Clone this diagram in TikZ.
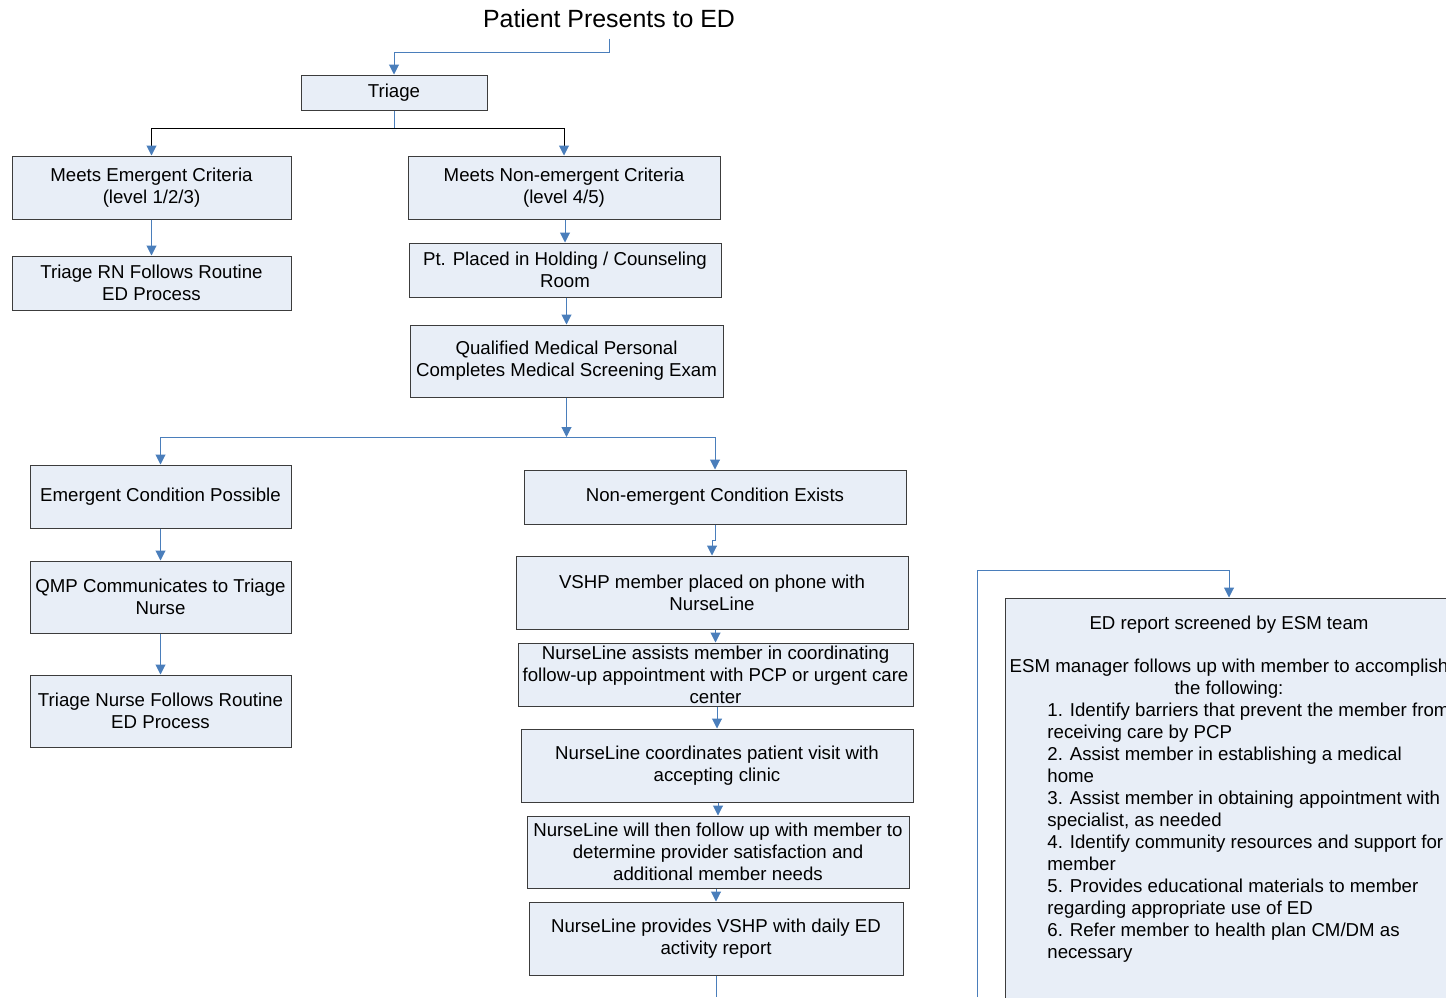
\documentclass[tikz,border=0pt]{standalone}
\usepackage{fontspec}
\setmainfont{Liberation Sans}
\usetikzlibrary{arrows.meta}

\definecolor{boxfill}{HTML}{E8EEF7}
\definecolor{boxline}{HTML}{3C3C3C}
\definecolor{linkblue}{HTML}{4A7EBB}

\tikzset{
  stepbox/.style={draw=boxline, fill=boxfill, line width=0.5pt, inner sep=0pt,
    align=center, font=\fontsize{9.33}{11}\selectfont},
  plaintext/.style={inner sep=0pt, font=\fontsize{9.33}{11}\selectfont},
  link/.style={draw=linkblue, line width=0.5pt, -{Triangle[length=5pt,width=5pt]}},
  split/.style={draw=black, line width=0.5pt,
    -{Triangle[length=5pt,width=5pt,color=linkblue]}},
}

\begin{document}
\begin{tikzpicture}[x=0.5pt, y=-0.5pt]
  \useasboundingbox (0,0) rectangle (1446,997);

  %% title and triage
  \node[inner sep=5pt, font=\fontsize{12.45}{15}\selectfont] (title) at (609,19) {Patient Presents to ED};
  \node[stepbox, minimum width=93pt, minimum height=17.5pt] (triage) at (394,92.5) {Triage};

  %% left branch
  \node[stepbox, minimum width=139.5pt, minimum height=31.5pt] (emc) at (151.5,187.5) {Meets Emergent Criteria\\(level 1/2/3)};
  \node[stepbox, minimum width=139.5pt, minimum height=27pt] (rn) at (151.5,283) {Triage RN Follows Routine\\ED Process};

  %% right branch
  \node[stepbox, minimum width=156pt, minimum height=31.5pt] (nec) at (564,187.5) {Meets Non-emergent Criteria\\(level 4/5)};
  \node[stepbox, minimum width=156pt, minimum height=27pt] (hold) at (565,270) {Pt. Placed in Holding / Counseling\\Room};
  \node[stepbox, minimum width=156.5pt, minimum height=36pt] (qme) at (566.5,361) {Qualified Medical Personal\\Completes Medical Screening Exam};

  %% emergent condition
  \node[stepbox, minimum width=130.5pt, minimum height=31.5pt] (ecp) at (160.5,496.5) {Emergent Condition Possible};
  \node[stepbox, minimum width=130.5pt, minimum height=36pt] (qmp) at (160.5,597) {QMP Communicates to Triage\\Nurse};
  \node[stepbox, minimum width=130.5pt, minimum height=36pt] (trn) at (160.5,711) {Triage Nurse Follows Routine\\ED Process};

  %% non-emergent condition
  \node[stepbox, minimum width=191pt, minimum height=27pt] (nce) at (715,497) {Non-emergent Condition Exists};
  \node[stepbox, minimum width=196pt, minimum height=36.5pt] (vshp) at (712,592.5) {VSHP member placed on phone with\\NurseLine};
  \node[stepbox, minimum width=197.5pt, minimum height=31.5pt] (assist) at (715.5,674.5) {NurseLine assists member in coordinating\\follow-up appointment with PCP or urgent care\\center};
  \node[stepbox, minimum width=196pt, minimum height=36.5pt] (coord) at (717,765.5) {NurseLine coordinates patient visit with\\accepting clinic};
  \node[stepbox, minimum width=191pt, minimum height=36pt] (follow) at (718,852) {NurseLine will then follow up with member to\\determine provider satisfaction and\\additional member needs};
  \node[stepbox, minimum width=187pt, minimum height=36.5pt] (report) at (716,938.5) {NurseLine provides VSHP with daily ED\\activity report};

  %% ESM team
  \node[stepbox, minimum width=224pt, minimum height=206pt] (esm) at (1229,804) {};
  \node[plaintext] (esmhead) at (1229,625) {ED report screened by ESM team};
  \node[plaintext, align=center] (esmintro) at (1229,679) {ESM manager follows up with member to accomplish\\the following:};
  \node[plaintext, align=left, anchor=north west] (esmlist) at (1047,703) {1. Identify barriers that prevent the member from\\
    receiving care by PCP\\
    2. Assist member in establishing a medical\\
    home\\
    3. Assist member in obtaining appointment with\\
    specialist, as needed\\
    4. Identify community resources and support for\\
    member\\
    5. Provides educational materials to member\\
    regarding appropriate use of ED\\
    6. Refer member to health plan CM/DM as\\
    necessary};

  %% junctions and loose ends
  \coordinate (tsplit) at (394,128);
  \coordinate (qsplit) at (566.5,437);
  \coordinate (rbottom) at (716,997);
  \coordinate (esmfoot) at (977,997);
  \coordinate (esmbend) at (977,570);

  %% connectors
  \draw[link] (title.south) -- ++(0,14) -| (triage.north);
  \draw[link, -] (triage.south) -- (tsplit);
  \draw[split] (tsplit) -| (emc.north);
  \draw[split] (tsplit) -| (nec.north);
  \draw[link] (emc.south) -- (rn.north);
  \draw[link] (nec.south -| hold.north) -- (hold.north);
  \draw[link] (hold.south -| qme.north) -- (qme.north);
  \draw[link] (qme.south) -- (qsplit);
  \draw[link] (qsplit) -| (ecp.north);
  \draw[link] (qsplit) -| (nce.north);
  \draw[link] (ecp.south) -- (qmp.north);
  \draw[link] (qmp.south) -- (trn.north);
  \draw[link] (nce.south) -- ++(0,16) -| (vshp.north);
  \draw[link] (vshp.south -| assist.north) -- (assist.north);
  \draw[link] (assist.south -| coord.north) -- (coord.north);
  \draw[link] (coord.south -| follow.north) -- (follow.north);
  \draw[link] (follow.south -| report.north) -- (report.north);
  \draw[link, -] (report.south) -- (rbottom);
  \draw[link] (esmfoot) -- (esmbend) -| (esm.north);

\end{tikzpicture}
\end{document}
